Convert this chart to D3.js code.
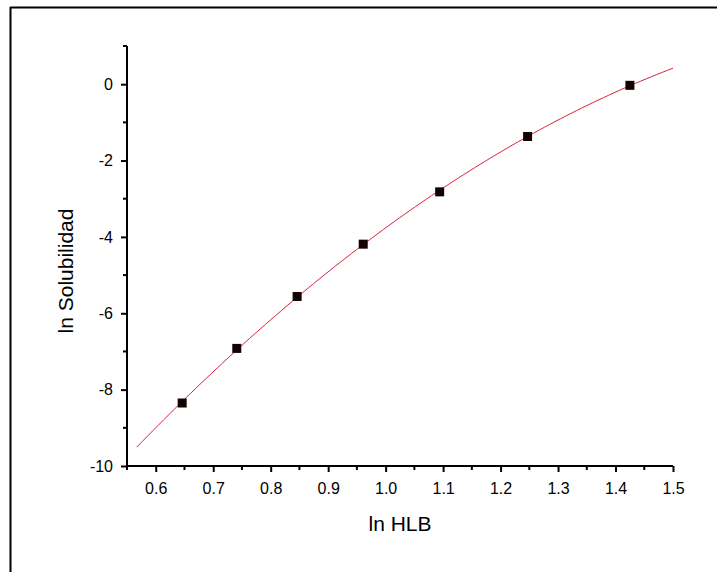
<!DOCTYPE html>
<html>
<head>
<meta charset="utf-8">
<script src="https://cdn.jsdelivr.net/npm/d3@7/dist/d3.min.js"></script>
<style>
  body { margin: 0; background: #fff; }
  svg { display: block; font-family: "Liberation Sans", Arial, sans-serif; }
</style>
</head>
<body>
<svg id="chart" width="717" height="572"></svg>
<script>
// measured points (ln HLB, ln solubility)
var lnHLB = [0.646, 0.741, 0.846, 0.961, 1.094, 1.247, 1.425];
var lnSol = [-8.35, -6.92, -5.56, -4.19, -2.82, -1.37, -0.03];

var xTicks = [0.6, 0.7, 0.8, 0.9, 1.0, 1.1, 1.2, 1.3, 1.4, 1.5];
var yTicks = [0, -2, -4, -6, -8, -10];
var fitRange = [0.567, 1.5];

var margin = {left: 127, right: 44, top: 46, bottom: 106};
var width = 717, height = 572;

var svg = d3.select("#chart");

// frame lines
svg.append("line").attr("x1", 10).attr("x2", width).attr("y1", 7.5).attr("y2", 7.5)
  .attr("stroke", "#000").attr("stroke-width", 2);
svg.append("line").attr("x1", 10.5).attr("x2", 10.5).attr("y1", 7).attr("y2", height)
  .attr("stroke", "#000").attr("stroke-width", 2);

var x = d3.scaleLinear().domain([0.55, 1.5]).range([margin.left, width - margin.right]);
var y = d3.scaleLinear().domain([-10, 1]).range([height - margin.bottom, margin.top]);

// quadratic least squares fit of the points
function quadFit(xs, ys) {
  var S = [0, 0, 0, 0, 0], T = [0, 0, 0];
  xs.forEach(function(xv, i) {
    for (var k = 0; k < 5; k++) S[k] += Math.pow(xv, k);
    for (var k = 0; k < 3; k++) T[k] += ys[i] * Math.pow(xv, k);
  });
  var M = [[S[0], S[1], S[2], T[0]], [S[1], S[2], S[3], T[1]], [S[2], S[3], S[4], T[2]]];
  for (var i = 0; i < 3; i++) {
    for (var j = i + 1; j < 3; j++) {
      var f = M[j][i] / M[i][i];
      for (var k = i; k < 4; k++) M[j][k] -= f * M[i][k];
    }
  }
  var c = [0, 0, 0];
  for (var i = 2; i >= 0; i--) {
    var s = M[i][3];
    for (var k = i + 1; k < 3; k++) s -= M[i][k] * c[k];
    c[i] = s / M[i][i];
  }
  return c;
}
var coef = quadFit(lnHLB, lnSol);
var fitLine = d3.range(0, 101).map(function(i) {
  var xv = fitRange[0] + (fitRange[1] - fitRange[0]) * i / 100;
  return [xv, coef[0] + coef[1] * xv + coef[2] * xv * xv];
});

// axes
var xAxis = svg.append("g").attr("transform", "translate(0," + y(-10) + ")")
  .call(d3.axisBottom(x).tickValues(xTicks).tickFormat(d3.format(".1f")).tickSize(6).tickPadding(11));
xAxis.append("g").selectAll("line").data(d3.range(0.55, 1.5, 0.1)).enter().append("line")
  .attr("x1", function(d) { return x(d); }).attr("x2", function(d) { return x(d); })
  .attr("y1", 0).attr("y2", 4).attr("stroke", "#000").attr("stroke-width", 2);

var yAxis = svg.append("g").attr("transform", "translate(" + x(0.55) + ",0)")
  .call(d3.axisLeft(y).tickValues(yTicks).tickSize(6).tickPadding(8)
    .tickFormat(function(d) { return d < 0 ? "-" + Math.abs(d) : d; }));
yAxis.append("g").selectAll("line").data([1, -1, -3, -5, -7, -9]).enter().append("line")
  .attr("x1", 0).attr("x2", -4)
  .attr("y1", function(d) { return y(d); }).attr("y2", function(d) { return y(d); })
  .attr("stroke", "#000").attr("stroke-width", 2);

[xAxis, yAxis].forEach(function(g) {
  g.selectAll(".tick line").attr("stroke-width", 2);
  g.selectAll("text").attr("font-size", 16).attr("fill", "#000")
    .attr("font-family", "Liberation Sans, Arial, sans-serif");
});
xAxis.select(".domain").attr("stroke-width", 2).attr("d", "M" + x(0.55) + ",0H" + x(1.5));
yAxis.select(".domain").attr("stroke-width", 2).attr("d", "M0," + y(-10) + "V" + y(1));

// axis titles
svg.append("text").attr("x", (x(0.55) + x(1.5)) / 2).attr("y", 531)
  .attr("text-anchor", "middle").attr("font-size", 21).text("ln HLB");
svg.append("text")
  .attr("transform", "translate(73,271) rotate(-90)")
  .attr("text-anchor", "middle").attr("font-size", 21).text("ln Solubilidad");

// fitted curve
svg.append("path").datum(fitLine)
  .attr("fill", "none").attr("stroke", "#e0203c").attr("stroke-width", 1)
  .attr("d", d3.line().x(function(d) { return x(d[0]); }).y(function(d) { return y(d[1]); }));

// data squares
svg.append("g").selectAll("rect").data(lnHLB).enter().append("rect")
  .attr("x", function(d) { return x(d) - 4.5; })
  .attr("y", function(d, i) { return y(lnSol[i]) - 4.5; })
  .attr("width", 9).attr("height", 9)
  .attr("fill", "#120202");
</script>
</body>
</html>
